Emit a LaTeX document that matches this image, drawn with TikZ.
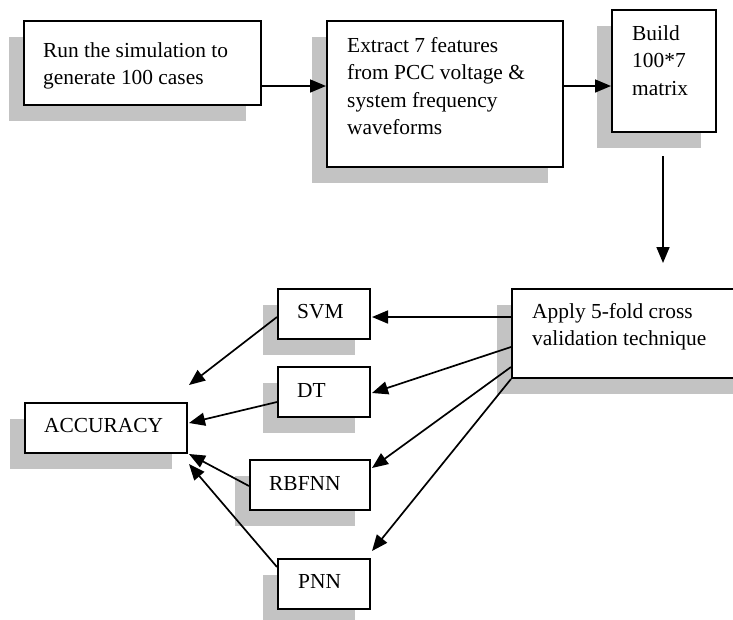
\documentclass[tikz,border=0pt]{standalone}
\usepackage{fontspec}
\setmainfont{Liberation Serif}
\usetikzlibrary{arrows.meta,shadows,calc}
\definecolor{shgray}{RGB}{195,195,195}
\begin{document}
\begin{tikzpicture}[x=1pt,y=-1pt,
  box/.style={draw=black,line width=2pt,fill=white,rectangle,anchor=north west,inner sep=0pt,
    drop shadow={shadow xshift=-15.5pt,shadow yshift=-16pt,fill=shgray,opacity=1}},
  txt/.style={anchor=base west,inner sep=0pt,align=left,font=\fontsize{21.4}{27.5}\selectfont},
  conn/.style={line width=1.7pt,-{Triangle[length=16pt,width=13pt]}}]
\clip (0,0) rectangle (733,619);
\fill[white] (0,0) rectangle (733,619);
% boxes
\node[box,minimum width=237pt,minimum height=84pt] (b1) at (23,20) {};
\node[box,minimum width=236pt,minimum height=146pt] (b2) at (326,20) {};
\node[box,minimum width=104pt,minimum height=122pt] (b3) at (611,9) {};
\node[box,minimum width=260pt,minimum height=89pt] (b4) at (511,288) {};
\node[box,minimum width=92pt,minimum height=50pt] (svm) at (277,288) {};
\node[box,minimum width=92pt,minimum height=50pt] (dt) at (277,366) {};
\node[box,minimum width=120pt,minimum height=50pt] (rbf) at (249,459) {};
\node[box,minimum width=92pt,minimum height=50pt] (pnn) at (277,558) {};
\node[box,minimum width=162pt,minimum height=50pt] (acc) at (24,402) {};
% texts (anchored at the baseline of their last line)
\node[txt] (t1) at ($(b1.north west)+(20,64.5)$) {Run the simulation to\\generate 100 cases};
\node[txt] (t2) at ($(b2.north west)+(21,114.5)$) {Extract 7 features\\from PCC voltage \&\\system frequency\\waveforms};
\node[txt] (t3) at ($(b3.north west)+(21,86)$) {Build\\100*7\\matrix};
\node[txt] (t4) at ($(b4.north west)+(21,57.5)$) {Apply 5-fold cross\\validation technique};
\node[txt] (tsvm) at ($(svm.north west)+(20,30)$) {SVM};
\node[txt] (tdt) at ($(dt.north west)+(20,31)$) {DT};
\node[txt] (trbf) at ($(rbf.north west)+(20,31)$) {RBFNN};
\node[txt] (tpnn) at ($(pnn.north west)+(21,30)$) {PNN};
\node[txt] (tacc) at ($(acc.north west)+(20,30)$) {ACCURACY};
% connectors
\coordinate (v1) at ($(b3.south west)+(52,23)$);
\coordinate (v2) at ($(b4.north west)+(152,-25)$);
\draw[conn] ($(b1.north east)+(0,66)$) -- ($(b2.north west)+(0,66)$);
\draw[conn] ($(b2.north east)+(0,66)$) -- ($(b3.north west)+(0,77)$);
\draw[conn] (v1) -- (v2);
\draw[conn] ($(b4.north west)+(0,29)$) -- ($(svm.north east)+(1,29)$);
\draw[conn] ($(b4.north west)+(0,59)$) -- ($(dt.north east)+(1,27)$);
\draw[conn] ($(b4.north west)+(0,79)$) -- ($(rbf.north east)+(1,9)$);
\draw[conn] (b4.south west) -- ($(pnn.north east)+(1,-7)$);
\draw[conn] ($(svm.north west)+(0,29)$) -- ($(acc.north east)+(1,-17)$);
\draw[conn] ($(dt.north west)+(0,36)$) -- ($(acc.north east)+(1,21)$);
\draw[conn] ($(rbf.north west)+(0,27)$) -- ($(acc.south east)+(1,0)$);
\draw[conn] ($(pnn.north west)+(0,9)$) -- ($(acc.south east)+(1,10)$);
\end{tikzpicture}
\end{document}
